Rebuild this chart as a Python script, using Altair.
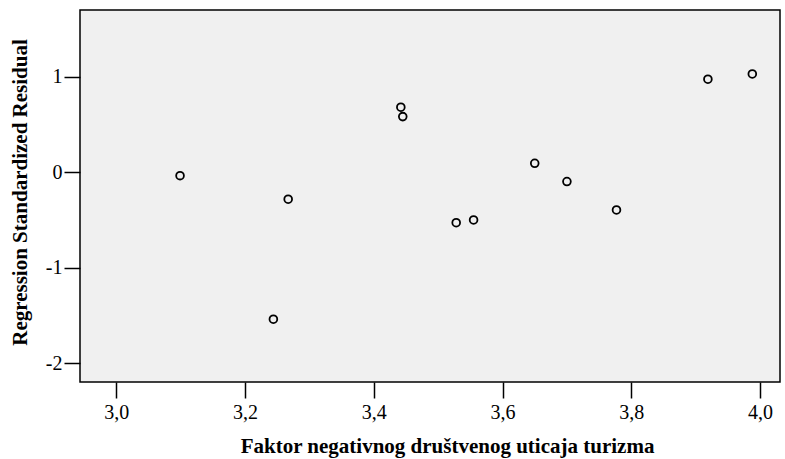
import altair as alt
import pandas as pd

x_vals = [3.099, 3.267, 3.244, 3.442, 3.445, 3.528, 3.555, 3.650, 3.700, 3.777, 3.919, 3.988]
y_vals = [-0.036, -0.283, -1.539, 0.681, 0.582, -0.528, -0.500, 0.093, -0.098, -0.395, 0.974, 1.029]
x_ticks = [3.0, 3.2, 3.4, 3.6, 3.8, 4.0]
y_ticks = [-2, -1, 0, 1]

df = pd.DataFrame({"x": x_vals, "y": y_vals})

FONT = "Liberation Serif"

chart = alt.Chart(df).mark_point(
    shape="circle", filled=False, color="black", size=60, strokeWidth=1.8, opacity=1
).encode(
    x=alt.X("x:Q",
            scale=alt.Scale(domain=[2.9436, 4.031], nice=False, zero=False),
            axis=alt.Axis(values=x_ticks, title="Faktor negativnog društvenog uticaja turizma",
                          labelExpr="replace(format(datum.value, '.1f'), '.', ',')",
                          grid=False, domain=False, tickSize=16, tickColor="black", tickWidth=1.5,
                          labelPadding=4, labelFont=FONT, labelFontSize=20, labelColor="black",
                          titleFont=FONT, titleFontSize=21, titleFontWeight="bold", titleColor="black",
                          titleX=367, titleY=70, titleBaseline="alphabetic", titleAnchor="middle")),
    y=alt.Y("y:Q",
            scale=alt.Scale(domain=[-2.196, 1.698], nice=False, zero=False),
            axis=alt.Axis(values=y_ticks, title="Regression Standardized Residual",
                          labelExpr="replace(format(datum.value, 'd'), '\u2212', '-')",
                          grid=False, domain=False, tickSize=16, tickColor="black", tickWidth=1.5,
                          labelPadding=2, labelFont=FONT, labelFontSize=20, labelColor="black",
                          titleFont=FONT, titleFontSize=21, titleFontWeight="bold", titleColor="black",
                          titleAngle=-90, titleX=-54, titleY=182, titleBaseline="alphabetic",
                          titleAnchor="middle")),
).properties(
    width=700, height=372,
    autosize=alt.AutoSizeParams(type="none"),
    padding={"left": 80, "top": 10, "right": 5, "bottom": 77},
    background="white",
).configure_view(
    fill="#f0f0f0", stroke="black", strokeWidth=1.5
)

chart.save("out.html", embed_options={"renderer": "svg", "actions": False})
